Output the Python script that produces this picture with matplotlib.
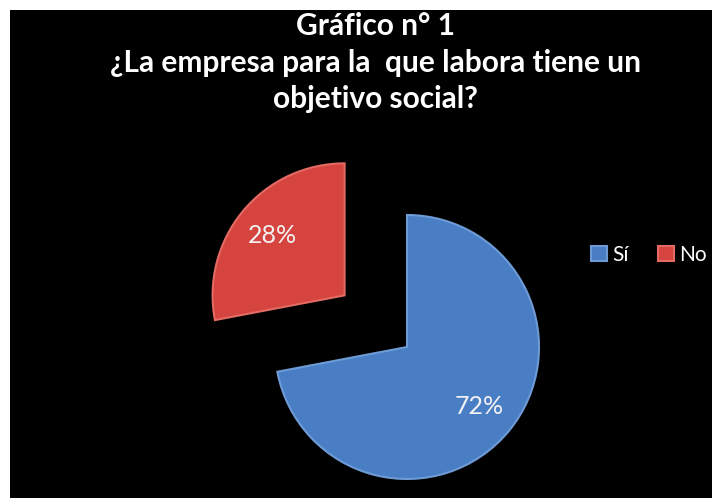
import matplotlib.pyplot as plt

labels = ['Sí', 'No']
values = [72, 28]
colors = ['#4A7EC4', '#D5443F']
edge_colors = ['#6E9BD6', '#E46A64']
title = 'Gráfico n° 1\n¿La empresa para la  que labora tiene un\nobjetivo social?'

plt.rcParams['font.family'] = ['Lato', 'DejaVu Sans']

fig = plt.figure(figsize=(7.12, 4.98), dpi=100, facecolor='white')

# black panel, white strip on the left and top
bg = fig.add_axes([10 / 712, 0, 702 / 712, 488 / 498])
bg.set_facecolor('black')
bg.set_xticks([])
bg.set_yticks([])
for s in bg.spines.values():
    s.set_visible(False)

# pie axes in pixel units
ax = fig.add_axes([0, 0, 1, 1])
r = 132
wedges, texts, autotexts = ax.pie(
    values, colors=colors, startangle=90, counterclock=False,
    explode=[0, 81], radius=r, center=(407, 151), frame=True,
    autopct='%1.0f%%', pctdistance=0.71,
    textprops=dict(color='#F2F2F2', fontsize=18))
for w, ec in zip(wedges, edge_colors):
    w.set_edgecolor(ec)
    w.set_linewidth(1.5)
ax.set_xlim(0, 712)
ax.set_ylim(0, 498)
ax.axis('off')

fig.text(375 / 712, (498 - 108) / 498, title, ha='center', va='baseline', color='white',
         fontsize=21.5, fontweight='bold', linespacing=1.36)

leg = ax.legend(wedges, labels, loc='center left', bbox_to_anchor=(581 / 712, 243 / 498),
                ncol=2, frameon=False, fontsize=15, handlelength=0.75, handleheight=0.75,
                handletextpad=0.25, columnspacing=1.4, borderpad=0, labelcolor='white')

fig.savefig('out.png', dpi=100, facecolor=fig.get_facecolor())
